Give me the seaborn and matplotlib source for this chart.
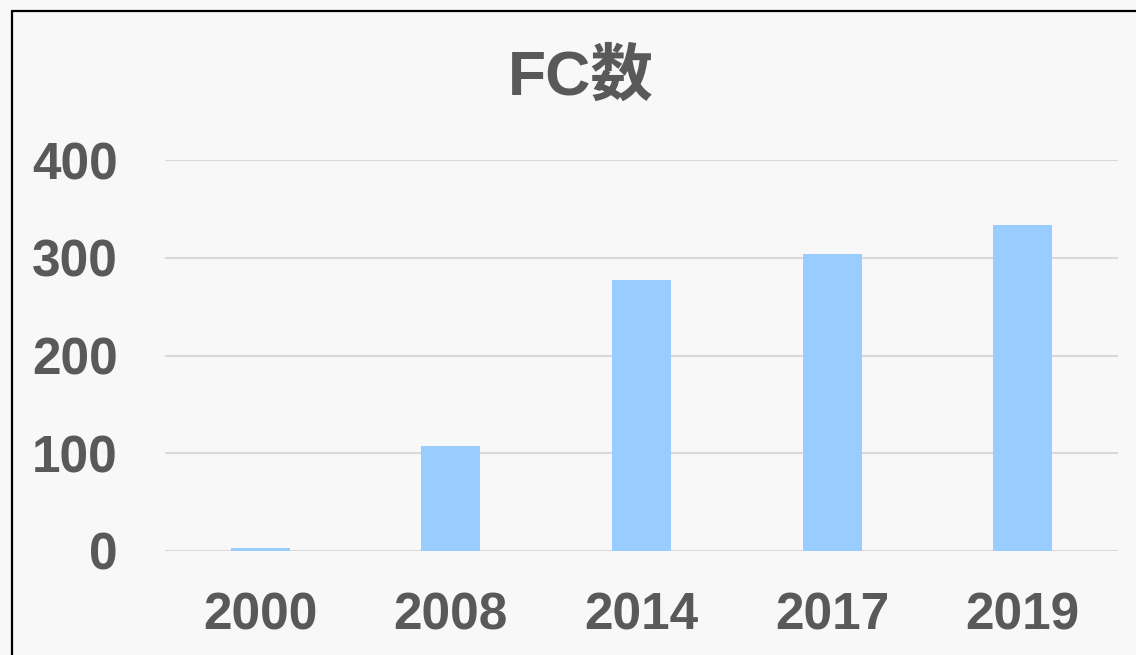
import matplotlib
matplotlib.use("Agg")
import matplotlib.pyplot as plt
import seaborn as sns
import pandas as pd
from matplotlib.lines import Line2D

# Data
years = ["2000", "2008", "2014", "2017", "2019"]
fc_counts = [3, 107, 277, 304, 334]
y_ticks = [0, 100, 200, 300, 400]

BG = "#f8f8f8"
TEXT = "#595959"
BAR = "#99ccff"
GRID = "#d9d9d9"

sns.set_theme(style="whitegrid")
plt.rcParams["font.family"] = ["Liberation Sans", "Noto Sans CJK JP", "DejaVu Sans"]

df = pd.DataFrame({"year": years, "count": fc_counts})

fig = plt.figure(figsize=(11.36, 6.55), dpi=100, facecolor=BG)
ax = fig.add_axes([165 / 1136, 104 / 655, 953 / 1136, 391 / 655])
ax.set_facecolor(BG)

sns.barplot(data=df, x="year", y="count", color=BAR, width=0.31,
            saturation=1, linewidth=0, edgecolor=BAR, ax=ax)

ax.set_xlim(-0.5, len(years) - 0.5)
ax.set_ylim(0, 400)
ax.set_yticks(y_ticks)
ax.set_xlabel("")
ax.set_ylabel("")

ax.grid(axis="y", color=GRID, linewidth=1.5)
ax.grid(axis="x", visible=False)
ax.set_axisbelow(True)
for s in ax.spines.values():
    s.set_visible(False)

ax.tick_params(axis="y", length=0, pad=34, labelsize=37, labelcolor=TEXT)
ax.tick_params(axis="x", length=0, pad=29, labelsize=37, labelcolor=TEXT)
for lbl in ax.get_xticklabels() + ax.get_yticklabels():
    lbl.set_fontweight("bold")

# Title
fig.text(581 / 1136, (655 - 95) / 655, "FC数", ha="center", va="baseline",
         fontsize=45, fontweight="bold", color=TEXT)

# Chart frame (left and top edges visible)
fig.add_artist(Line2D([11.5 / 1136, 11.5 / 1136], [0, 1 - 11 / 655],
                      transform=fig.transFigure, color="black", linewidth=1.6))
fig.add_artist(Line2D([11.5 / 1136, 1], [1 - 11 / 655, 1 - 11 / 655],
                      transform=fig.transFigure, color="black", linewidth=1.6))

fig.savefig("out.png", dpi=100, facecolor=BG)
